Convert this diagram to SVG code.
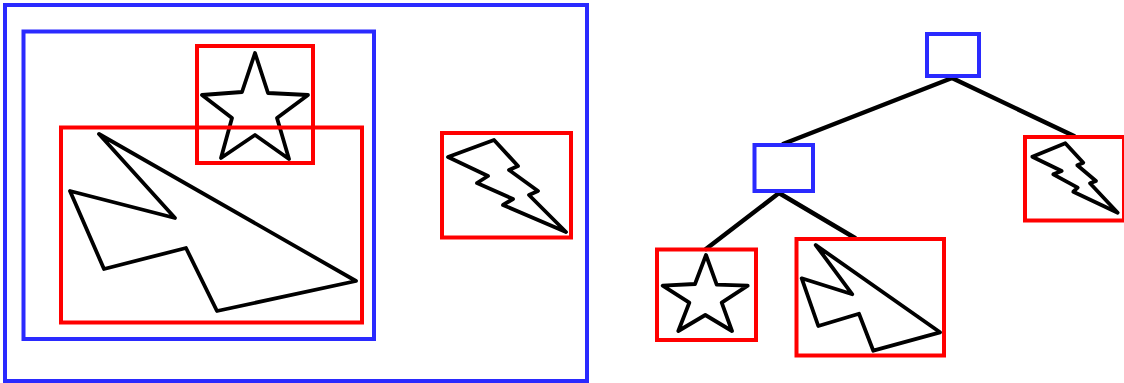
<svg xmlns="http://www.w3.org/2000/svg" width="1124" height="383" viewBox="0 0 1124 383">
<style>
.blue{fill:none;stroke:#2a2aff;stroke-width:4}
.red{fill:none;stroke:#ff0000;stroke-width:4}
.shape{fill:none;stroke:#000;stroke-width:3.8;stroke-linejoin:round}
.edge{fill:none;stroke:#000;stroke-width:4.5;stroke-linecap:round}
</style>
<rect width="1124" height="383" fill="#fff"/>
<g id="scene">
<rect id="outer" class="blue" x="5" y="5" width="582" height="376"/>
<rect id="inner" class="blue" x="23.5" y="31.5" width="350.5" height="307.5"/>
<g id="star-box">
<rect class="red" x="197" y="46" width="116" height="117"/>
<polygon class="shape" points="255,53 268,93 308,95 277,118 289,159 255,135 221,158 232,118 202,95 242,92"/>
</g>
<g id="poly-box">
<rect class="red" x="61" y="127.5" width="301" height="195"/>
<polygon class="shape" points="99,134 356,281 217,311 186,248 104,269 70,191 175,218"/>
</g>
<g id="bolt-box">
<rect class="red" x="442" y="133" width="129" height="104.5"/>
<polygon class="shape" points="448,157 494,140 518,166 509,170 538,191 529,195 566,232 503,205 513,199 477,183 488,176"/>
</g>
</g>
<g id="connectors">
<line class="edge" x1="952" y1="78" x2="783" y2="144"/>
<line class="edge" x1="952" y1="78" x2="1074" y2="136"/>
<line class="edge" x1="779" y1="193" x2="706" y2="249"/>
<line class="edge" x1="779" y1="193" x2="855" y2="238"/>
</g>
<g id="root"><rect class="blue" x="927" y="34" width="52" height="42"/></g>
<g id="mid"><rect class="blue" x="754.5" y="145" width="58.5" height="46"/></g>
<g id="leaf-star">
<rect class="red" x="657" y="249.5" width="99" height="90.5"/>
<polygon class="shape" points="706,255 716.7,284.7 747.7,285.7 721.7,302.7 732,331 705.3,315 678.3,331 689.3,302.7 662.7,285.7 695,284"/>
</g>
<g id="leaf-poly">
<rect class="red" x="796.5" y="239" width="147.5" height="116.5"/>
<polygon class="shape" points="815.7,245 940,332.3 873.3,350.7 859,313.7 818.3,326 801.7,278.3 852.3,294.3"/>
</g>
<g id="leaf-bolt">
<rect class="red" x="1025" y="137" width="99" height="83.5"/>
<polygon class="shape" points="1032.3,156.7 1065.3,143.3 1083.3,162.7 1077.3,165.3 1096,181 1090,183.3 1117.7,212.7 1073.3,191.7 1077.7,187.7 1053.3,174.3 1061.7,171"/>
</g>
</svg>
